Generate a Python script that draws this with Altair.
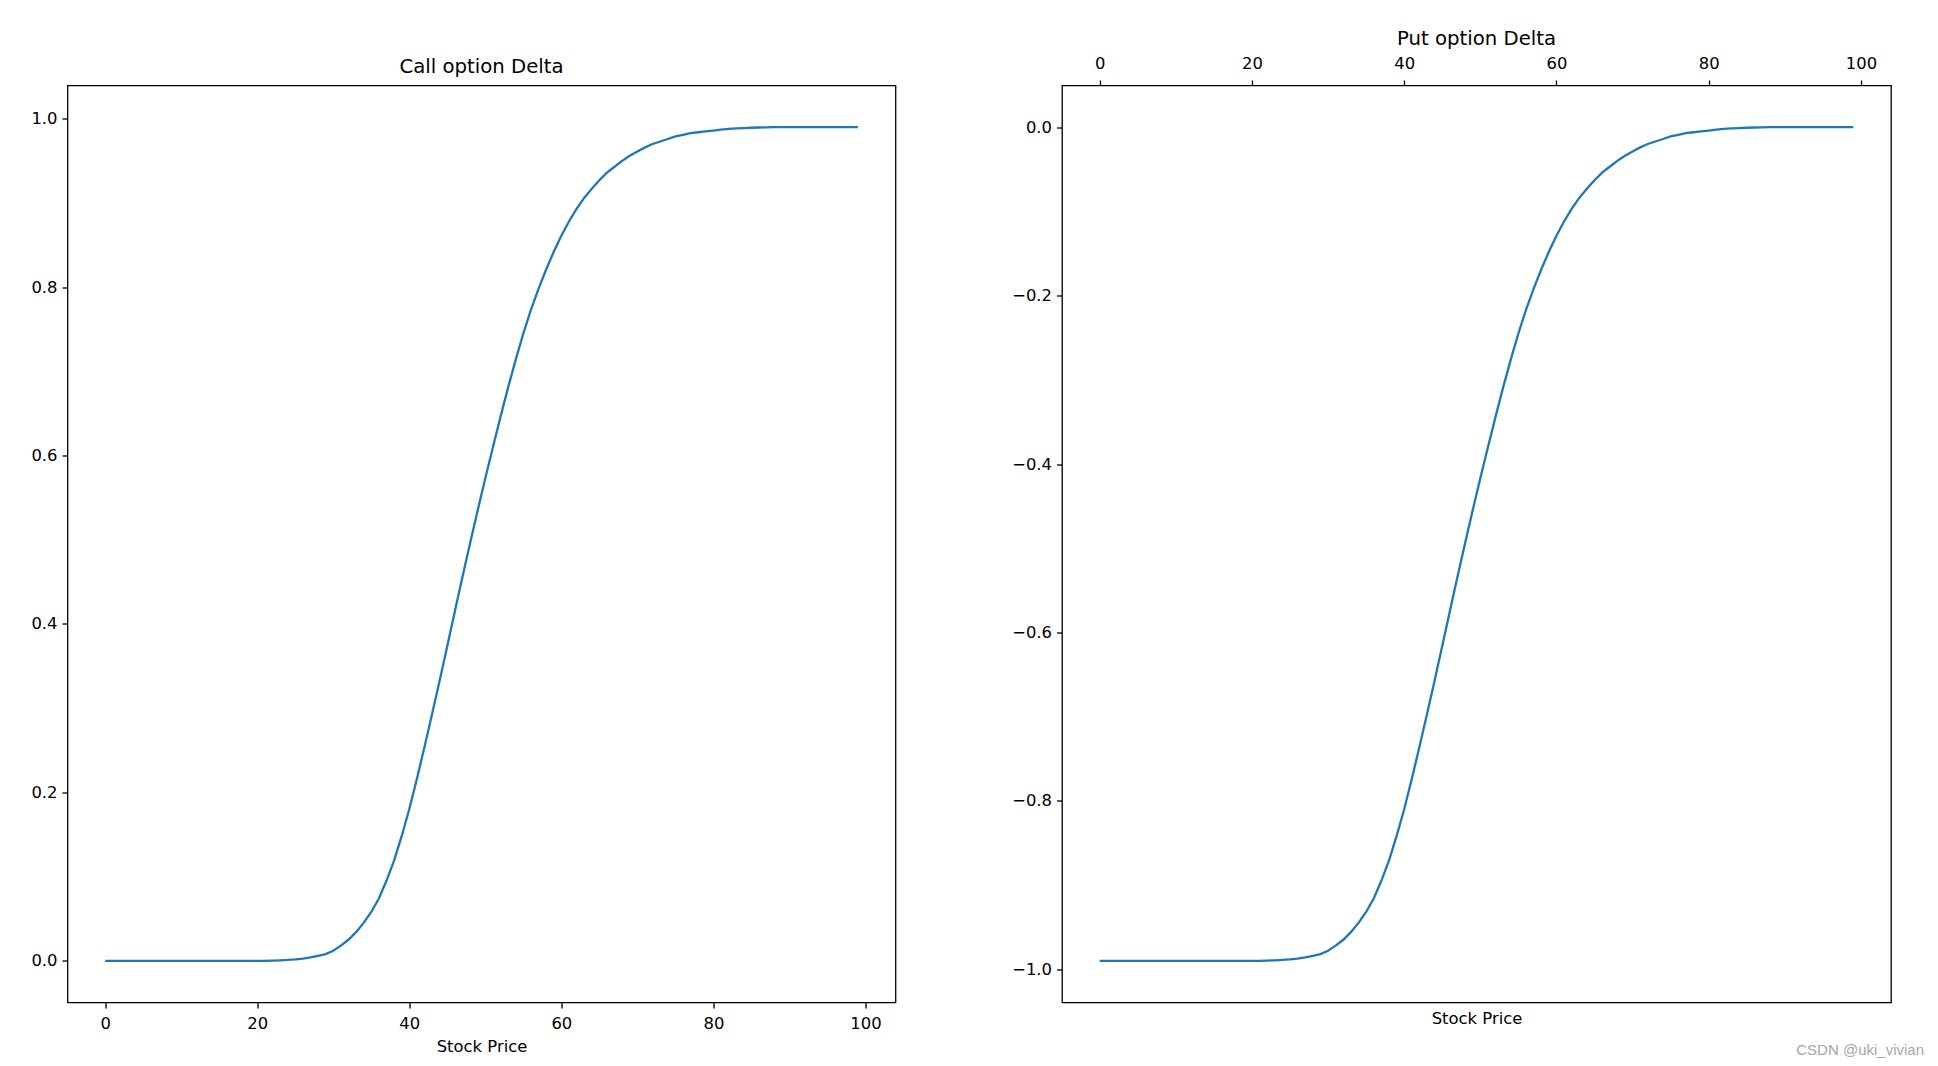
import altair as alt
import pandas as pd

FONT = "DejaVu Sans"
LINE_COLOR = "#1f77b4"

# ---- data ----
stock_price = list(range(0, 100))

call_delta = [
    0.0, 0.0, 0.0, 0.0, 0.0, 0.0, 0.0, 0.0, 0.0, 0.0,
    0.0, 0.0, 0.0, 0.0, 0.0, 0.0, 0.0, 0.0, 0.0, 0.0,
    0.0, 0.0, 0.0003, 0.0006, 0.001, 0.0017, 0.0027, 0.004, 0.006, 0.008,
    0.012, 0.018, 0.025, 0.034, 0.045, 0.058, 0.074, 0.095, 0.119, 0.148,
    0.180, 0.216, 0.254, 0.293, 0.333, 0.374, 0.415, 0.456, 0.496, 0.535,
    0.573, 0.610, 0.646, 0.681, 0.714, 0.745, 0.773, 0.798, 0.821, 0.842,
    0.861, 0.878, 0.893, 0.906, 0.917, 0.927, 0.936, 0.943, 0.950, 0.956,
    0.961, 0.966, 0.970, 0.973, 0.976, 0.979, 0.981, 0.983, 0.984, 0.985,
    0.986, 0.987, 0.988, 0.9885, 0.989, 0.9893, 0.9896, 0.9898, 0.990, 0.990,
    0.990, 0.990, 0.990, 0.990, 0.990, 0.990, 0.990, 0.990, 0.990, 0.990,
]

put_delta = [
    -0.990, -0.990, -0.990, -0.990, -0.990, -0.990, -0.990, -0.990, -0.990, -0.990,
    -0.990, -0.990, -0.990, -0.990, -0.990, -0.990, -0.990, -0.990, -0.990, -0.990,
    -0.990, -0.990, -0.9897, -0.9894, -0.989, -0.9883, -0.9873, -0.986, -0.984, -0.982,
    -0.978, -0.972, -0.965, -0.956, -0.945, -0.932, -0.916, -0.895, -0.871, -0.842,
    -0.810, -0.774, -0.736, -0.697, -0.657, -0.616, -0.575, -0.534, -0.494, -0.455,
    -0.417, -0.380, -0.344, -0.309, -0.276, -0.245, -0.217, -0.192, -0.169, -0.148,
    -0.129, -0.112, -0.097, -0.084, -0.073, -0.063, -0.054, -0.047, -0.040, -0.034,
    -0.029, -0.024, -0.020, -0.017, -0.014, -0.011, -0.009, -0.007, -0.006, -0.005,
    -0.004, -0.003, -0.002, -0.0015, -0.001, -0.0007, -0.0004, -0.0002, 0.0, 0.0,
    0.0, 0.0, 0.0, 0.0, 0.0, 0.0, 0.0, 0.0, 0.0, 0.0,
]

x_ticks = [0, 20, 40, 60, 80, 100]
call_ticks = [0.0, 0.2, 0.4, 0.6, 0.8, 1.0]
put_ticks = [-1.0, -0.8, -0.6, -0.4, -0.2, 0.0]

x_title = "Stock Price"
call_title = "Call option Delta"
put_title = "Put option Delta"
watermark = ["CSDN @uki_vivian"]

df_call = pd.DataFrame({"price": stock_price, "delta": call_delta})
df_put = pd.DataFrame({"price": stock_price, "delta": put_delta})
df_wm = pd.DataFrame({"t": watermark})

W, H = 828, 917

axis_style = dict(
    grid=False, domain=False, tickColor="black", tickWidth=1.3, tickSize=5.5,
    labelColor="black", labelFont=FONT, labelFontSize=16.4,
    titleFont=FONT, titleFontSize=16.4, titleColor="black", titleFontWeight="normal",
)

x_scale = alt.Scale(domain=[-4.95, 103.95], nice=False, zero=False)


def title_params(text, offset):
    return alt.TitleParams(text, font=FONT, fontSize=19.7, fontWeight="normal",
                           color="black", offset=offset)


left = alt.Chart(df_call).mark_line(color=LINE_COLOR, strokeWidth=2.3).encode(
    x=alt.X("price:Q", scale=x_scale,
            axis=alt.Axis(values=x_ticks, format="d", title=x_title,
                          labelPadding=7.5, titlePadding=7, **axis_style)),
    y=alt.Y("delta:Q", scale=alt.Scale(domain=[-0.0495, 1.0395], nice=False, zero=False),
            axis=alt.Axis(values=call_ticks, format=".1f", title=None,
                          labelPadding=5, **axis_style)),
).properties(width=W, height=H, title=title_params(call_title, 9))

put_y = alt.Y("delta:Q", scale=alt.Scale(domain=[-1.0395, 0.0495], nice=False, zero=False),
              axis=alt.Axis(values=put_ticks, format=".1f", title=None,
                            labelPadding=5, **axis_style))

put_line = alt.Chart(df_put).mark_line(color=LINE_COLOR, strokeWidth=2.3).encode(
    x=alt.X("price:Q", scale=x_scale,
            axis=alt.Axis(orient="top", values=x_ticks, format="d", title=None,
                          labelPadding=9, **axis_style)),
    y=put_y,
)

put_bottom = alt.Chart(df_put).mark_line(opacity=0).encode(
    x=alt.X("price:Q", scale=x_scale,
            axis=alt.Axis(orient="bottom", labels=False, ticks=False, title=x_title,
                          titlePadding=7.5, **axis_style)),
    y=put_y,
)

wm = alt.Chart(df_wm).mark_text(
    align="right", baseline="alphabetic", font="Liberation Sans",
    fontSize=15, color="#a6a6a6",
).encode(text="t:N", x=alt.value(862), y=alt.value(969))

right = alt.layer(put_line, put_bottom, wm).resolve_axis(x="independent").properties(
    width=W + 1, height=H, title=title_params(put_title, 6.5)
)

chart = alt.hconcat(left, right, spacing=114.5).configure_view(
    stroke="black", strokeWidth=1.3
).properties(
    padding={"left": 21.5, "top": 19.5, "right": 0, "bottom": 0},
    background="white",
)

chart.save("out.html", embed_options={"renderer": "svg", "actions": False})
